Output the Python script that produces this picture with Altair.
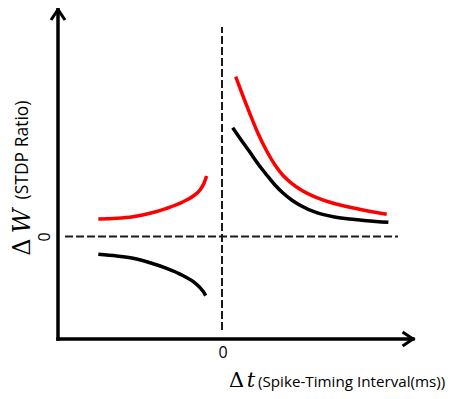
import altair as alt
import pandas as pd

# ---- data (Δt in ms-like units, ΔW in ratio units) ----
# left branch (Δt < 0)
left_red_t = [-77.3, -65.8, -55.6, -45.0, -34.6, -24.2, -17.9, -13.75, -11.25, -9.6]
left_red = [0.175, 0.182, 0.198, 0.232, 0.282, 0.348, 0.405, 0.465, 0.532, 0.605]
left_black_t = [-77.3, -65.8, -55.6, -45.0, -34.6, -24.2, -17.9, -13.75, -11.25, -10.2]
left_black = [-0.178, -0.195, -0.218, -0.262, -0.318, -0.392, -0.452, -0.512, -0.562, -0.592]
# right branch (Δt > 0)
right_red_t = [8.56, 12.31, 17.5, 22.69, 27.94, 33.13, 38.31, 43.56, 48.75, 59.19, 69.56, 80.0, 90.44, 102.94]
right_red = [1.598, 1.438, 1.225, 1.025, 0.855, 0.715, 0.608, 0.532, 0.472, 0.388, 0.332, 0.292, 0.258, 0.222]
right_black_t = [6.69, 12.31, 17.5, 22.69, 27.94, 33.13, 38.31, 43.56, 48.75, 59.19, 69.56, 80.0, 90.44, 104.0]
right_black = [1.088, 0.958, 0.842, 0.722, 0.615, 0.515, 0.432, 0.365, 0.312, 0.238, 0.198, 0.175, 0.158, 0.142]

series_names = ["A", "B"]

# axis frame extents (data units)
axis_x_min, axis_x_max = -102.5, 119.4
axis_y_min, axis_y_max = -1.025, 2.27
# dashed reference lines extents
ref_v_y = [-0.935, 2.095]
ref_h_x = [-98.1, 110.0]

# ---- build tables ----
rows = []
for t, w in zip(left_red_t, left_red):
    rows.append(dict(t=t, w=w, series="A", branch="A-left"))
for t, w in zip(right_red_t, right_red):
    rows.append(dict(t=t, w=w, series="A", branch="A-right"))
for t, w in zip(left_black_t, left_black):
    rows.append(dict(t=t, w=w, series="B", branch="B-left"))
for t, w in zip(right_black_t, right_black):
    rows.append(dict(t=t, w=w, series="B", branch="B-right"))
curves = pd.DataFrame(rows)

axes_df = pd.DataFrame([
    dict(x=axis_x_min, y=axis_y_min, x2=axis_x_max, y2=axis_y_min),
    dict(x=axis_x_min, y=axis_y_min, x2=axis_x_min, y2=axis_y_max),
])
refs_df = pd.DataFrame([
    dict(x=0.0, y=ref_v_y[0], x2=0.0, y2=ref_v_y[1]),
    dict(x=ref_h_x[0], y=0.0, x2=ref_h_x[1], y2=0.0),
])
arrows_df = pd.DataFrame([
    dict(x=axis_x_max, y=axis_y_min, ang=90),
    dict(x=axis_x_min, y=axis_y_max, ang=0),
])

W, H = 439, 383
xs = alt.Scale(domain=[-133.75, 140.625], nice=False, zero=False)
ys = alt.Scale(domain=[-1.545, 2.285], nice=False, zero=False)

lines = alt.Chart(curves).mark_line(strokeWidth=3.5, interpolate="monotone").encode(
    x=alt.X("t:Q", scale=xs, axis=None),
    y=alt.Y("w:Q", scale=ys, axis=None),
    color=alt.Color("series:N", scale=alt.Scale(domain=series_names, range=["#ff0000", "#000000"]), legend=None),
    detail="branch:N",
    order="t:Q",
)

frame = alt.Chart(axes_df).mark_rule(color="black", strokeWidth=3.5, strokeCap="square").encode(
    x=alt.X("x:Q", scale=xs, axis=None), y=alt.Y("y:Q", scale=ys, axis=None),
    x2="x2:Q", y2="y2:Q",
)

refs = alt.Chart(refs_df).mark_rule(color="#1a1a1a", strokeWidth=2, strokeDash=[8, 3]).encode(
    x=alt.X("x:Q", scale=xs, axis=None), y=alt.Y("y:Q", scale=ys, axis=None),
    x2="x2:Q", y2="y2:Q",
)

arrows = alt.Chart(arrows_df).mark_point(
    shape="M -1 1.5 L 0 0 L 1 1.5", filled=False, color="black", strokeWidth=3, size=196, opacity=1
).encode(
    x=alt.X("x:Q", scale=xs, axis=None), y=alt.Y("y:Q", scale=ys, axis=None),
    angle=alt.Angle("ang:Q", scale=None),
)

sans = "Open Sans"
serif = "DejaVu Serif"

def label(text, x, y, size, font, angle=0, style="normal", align="center", baseline="alphabetic"):
    return alt.Chart(pd.DataFrame({"s": [text]})).mark_text(
        font=font, fontSize=size, fontStyle=style, angle=angle, align=align, baseline=baseline, color="black"
    ).encode(x=alt.value(x), y=alt.value(y), text="s:N")

texts = [
    label("0", 42, 229, 16, sans, angle=270),
    label("(STDP Ratio)", 20, 142, 17.5, sans, angle=270),
    label("Δ", 22, 239, 24, serif, angle=270),
    label("W", 22, 213, 24, serif, angle=270, style="italic"),
    label("0", 215, 350, 16, sans),
    label("Δ", 228.5, 379, 21, serif),
    label("t", 243, 379, 21, serif, style="italic"),
    label("(Spike-Timing Interval(ms))", 250, 379, 15.2, sans, align="left"),
]

chart = alt.layer(refs, lines, frame, arrows, *texts).properties(
    width=W, height=H, autosize=alt.AutoSizeParams(type="none"), padding=0
).configure_view(stroke=None)

chart.save("out.html", embed_options={"renderer": "svg", "actions": False})
